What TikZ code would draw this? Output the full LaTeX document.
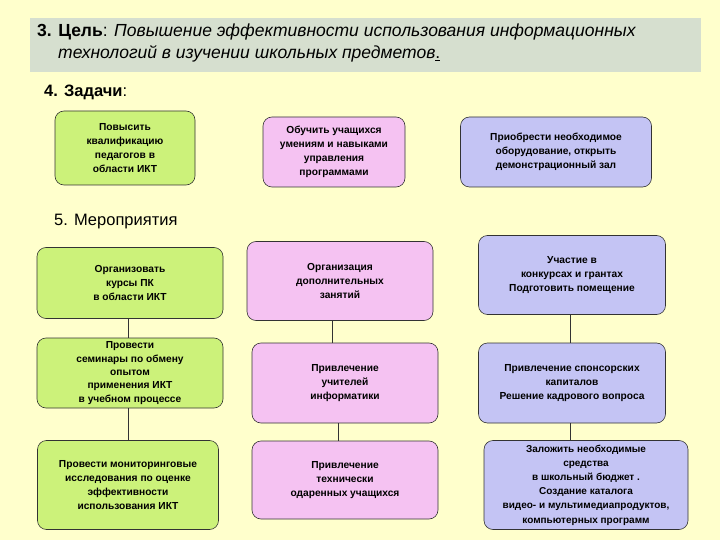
\documentclass[tikz,border=0pt]{standalone}
\usepackage{fontspec}
\setmainfont{Liberation Sans}
\begin{document}
\begin{tikzpicture}[x=1pt,y=-1pt,
 box/.style={draw=black!80,line width=0.6pt,rounded corners=9pt,align=center,font=\fontsize{10.2}{14}\selectfont\bfseries,inner sep=1pt},
 ln/.style={draw=black!80,line width=0.6pt}]
\definecolor{bg}{HTML}{FFFFCC}
\definecolor{hd}{HTML}{D6DFCF}
\definecolor{gr}{HTML}{CCF27A}
\definecolor{pk}{HTML}{F5C2F2}
\definecolor{bl}{HTML}{C4C4F4}
\fill[bg] (0,0) rectangle (720,540);
\useasboundingbox (0,0) rectangle (720,540);
\fill[hd] (30,18) rectangle (701,72);
\node[anchor=north west,align=left,font=\fontsize{17.5}{22}\selectfont,inner sep=0pt] (goal) at (37,24)
 {\textbf{3. Цель}: \textit{Повышение эффективности использования информационных}\\
 \hspace*{21pt}\textit{технологий в изучении школьных предметов}\underline{.}};
\node[anchor=west,font=\fontsize{16.5}{18}\selectfont,inner sep=0pt] (tasks) at (44,92) {\textbf{4. Задачи}:};
\node[anchor=west,font=\fontsize{16.5}{18}\selectfont,inner sep=0pt] (meas) at (54,222) {5. Мероприятия};
% tasks
\node[box,fill=gr,minimum width=140,minimum height=74] (t1) at (125,148) {Повысить\\квалификацию\\педагогов в\\области ИКТ};
\node[box,fill=pk,minimum width=142,minimum height=70] (t2) at (334,152) {Обучить учащихся\\умениям и навыками\\управления\\программами};
\node[box,fill=bl,minimum width=191,minimum height=70] (t3) at (556,152) {Приобрести необходимое\\оборудование, открыть\\демонстрационный зал};
% measures
\node[box,fill=gr,minimum width=186,minimum height=71] (g1) at (130,283) {Организовать\\курсы ПК\\в области ИКТ};
\node[box,fill=gr,minimum width=186,minimum height=70,font=\fontsize{10.2}{13.3}\selectfont\bfseries] (g2) at (130,373) {Провести\\семинары по обмену\\опытом\\применения  ИКТ\\в учебном процессе};
\node[box,fill=gr,minimum width=181,minimum height=89] (g3) at (128,485) {Провести мониторинговые\\исследования по оценке\\эффективности\\использования ИКТ};
\node[box,fill=pk,minimum width=186,minimum height=79] (p1) at (340,281) {Организация\\дополнительных\\занятий};
\node[box,fill=pk,minimum width=186,minimum height=80] (p2) at (345,383) {Привлечение\\учителей\\информатики};
\node[box,fill=pk,minimum width=186,minimum height=78] (p3) at (345,480) {Привлечение\\технически\\одаренных учащихся};
\node[box,fill=bl,minimum width=187,minimum height=79] (b1) at (572,275) {Участие в\\конкурсах и грантах\\Подготовить помещение};
\node[box,fill=bl,minimum width=187,minimum height=80] (b2) at (572,383) {Привлечение спонсорских\\капиталов\\Решение кадрового вопроса};
\node[box,fill=bl,minimum width=204,minimum height=89,font=\fontsize{10}{14.2}\selectfont\bfseries] (b3) at (586,485) {Заложить необходимые\\средства\\в школьный бюджет .\\Создание каталога\\видео- и мультимедиапродуктов,\\компьютерных программ};
\draw[ln] (g1.south -| 128,0) -- (g2.north -| 128,0);
\draw[ln] (g2.south -| 128,0) -- (g3.north -| 128,0);
\draw[ln] (p1.south -| 332,0) -- (p2.north -| 332,0);
\draw[ln] (p2.south -| 338,0) -- (p3.north -| 338,0);
\draw[ln] (b1.south -| 570,0) -- (b2.north -| 570,0);
\draw[ln] (b2.south -| 570,0) -- (b3.north -| 570,0);
\end{tikzpicture}
\end{document}
